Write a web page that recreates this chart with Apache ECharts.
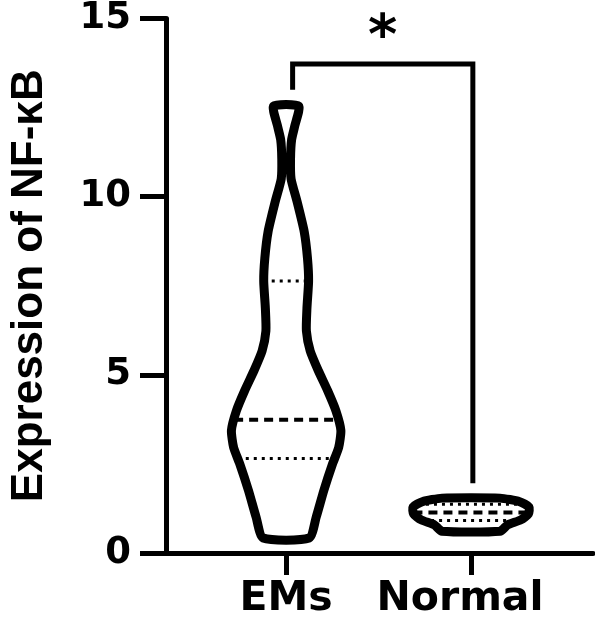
<!DOCTYPE html>
<html>
<head>
<meta charset="utf-8">
<script src="https://cdn.jsdelivr.net/npm/echarts@6/dist/echarts.min.js"></script>
<style>
html,body{margin:0;padding:0;background:#fff;}
#chart{width:595px;height:620px;}
</style>
</head>
<body>
<div id="chart"></div>
<script>
// ---- data ----
const categories = ['EMs', 'Normal'];
const categoryPositions = [1, 2];
const yTicks = [0, 5, 10, 15];
const yAxisTitle = 'Expression of NF-κB';

// violin outlines: levels (y values) and relative density (half width) at each level
const emsLevels   = [0.42, 1.01, 1.76, 2.51, 2.96, 3.44, 3.99, 4.55, 5.11, 5.67, 6.23, 6.87, 7.63, 8.27, 9.02, 9.86, 10.5, 11.06, 11.6, 12.0, 12.54];
const emsDensity  = [0.42, 0.55, 0.69, 0.85, 0.96, 1.00, 0.91, 0.76, 0.59, 0.44, 0.37, 0.38, 0.41, 0.39, 0.33, 0.20, 0.09, 0.08, 0.10, 0.16, 0.23];
const normalLevels  = [0.61, 0.79, 0.93, 1.10, 1.29, 1.44, 1.54];
const normalDensity = [0.53, 0.67, 0.91, 1.05, 1.06, 0.89, 0.53];

// quartiles: [Q1, median, Q3]
const emsQuartiles    = [2.65, 3.74, 7.63];
const normalQuartiles = [0.91, 1.14, 1.37];

// significance bracket
const bracketX = [1.035, 2.01];        // left leg, right leg
const bracketY = [13.0, 13.72, 1.96];  // left leg end, top, right leg end
const sigLabel = '*';
const sigLabelY = 14.45;

// ---- drawing ----
const MAX_HALF = 0.296;
const groups = [
  {levels: emsLevels, density: emsDensity, quart: emsQuartiles},
  {levels: normalLevels, density: normalDensity, quart: normalQuartiles}
];

function halfAt(g, y) {
  const L = g.levels, D = g.density;
  if (y <= L[0]) return D[0] * MAX_HALF;
  for (let k = 1; k < L.length; k++) {
    if (y <= L[k]) {
      const t = (y - L[k - 1]) / (L[k] - L[k - 1]);
      return (D[k - 1] + t * (D[k] - D[k - 1])) * MAX_HALF;
    }
  }
  return D[D.length - 1] * MAX_HALF;
}

function renderViolin(params, api) {
  const g = groups[params.dataIndex];
  const xc = api.value(0);
  const right = g.levels.map((y, k) => api.coord([xc + g.density[k] * MAX_HALF, y]));
  const left = g.levels.map((y, k) => api.coord([xc - g.density[k] * MAX_HALF, y])).reverse();
  const children = [];
  g.quart.forEach((q, qi) => {
    const h = halfAt(g, q);
    const p1 = api.coord([xc - h, q]);
    const p2 = api.coord([xc + h, q]);
    const isMedian = qi === 1;
    children.push({
      type: 'line',
      shape: {x1: p1[0], y1: p1[1], x2: p2[0], y2: p2[1]},
      style: {stroke: '#000', lineWidth: isMedian ? 4 : 3, lineDash: isMedian ? [9, 6] : [3, 5], fill: null}
    });
  });
  children.push({
    type: 'polygon',
    shape: {points: right.concat(left), smooth: 0.2},
    style: {fill: 'rgba(0,0,0,0)', stroke: '#000', lineWidth: 9, lineJoin: 'round'}
  });
  return {type: 'group', children: children};
}

function renderBracket(params, api) {
  const p0 = api.coord([bracketX[0], bracketY[0]]);
  const p1 = api.coord([bracketX[0], bracketY[1]]);
  const p2 = api.coord([bracketX[1], bracketY[1]]);
  const p3 = api.coord([bracketX[1], bracketY[2]]);
  const t = api.coord([(bracketX[0] + bracketX[1]) / 2, sigLabelY]);
  return {
    type: 'group',
    children: [
      {type: 'polyline', shape: {points: [p0, p1, p2, p3]}, style: {stroke: '#000', lineWidth: 5, fill: null}},
      {type: 'text', x: t[0], y: t[1], style: {text: sigLabel, fontFamily: 'DejaVu Sans', fontWeight: 'bold', fontSize: 56, fill: '#000', align: 'center', verticalAlign: 'middle'}}
    ]
  };
}

const chart = echarts.init(document.getElementById('chart'), null, {renderer: 'canvas'});
chart.setOption({
  backgroundColor: '#fff',
  animation: false,
  grid: {left: 163, right: 2, top: 17, bottom: 67, containLabel: false},
  xAxis: {
    type: 'value',
    min: 0.35,
    max: 2.66,
    splitLine: {show: false},
    axisLine: {show: true, onZero: false, lineStyle: {color: '#000', width: 5}},
    axisTick: {show: true, customValues: categoryPositions, length: 22, lineStyle: {color: '#000', width: 5}},
    axisLabel: {
      customValues: categoryPositions,
      formatter: function (v) {
        const name = categories[categoryPositions.indexOf(v)];
        return v === categoryPositions[1] ? '{n|' + name + '}' : '{e|' + name + '}';
      },
      margin: 26,
      rich: {
        e: {fontFamily: 'DejaVu Sans', fontWeight: 'bold', fontSize: 41, color: '#000'},
        n: {fontFamily: 'DejaVu Sans', fontWeight: 'bold', fontSize: 41, color: '#000', padding: [0, 22, 0, 0]}
      }
    }
  },
  yAxis: {
    type: 'value',
    min: yTicks[0],
    max: yTicks[yTicks.length - 1],
    interval: yTicks[1] - yTicks[0],
    splitLine: {show: false},
    axisLine: {show: true, lineStyle: {color: '#000', width: 5}},
    axisTick: {show: true, length: 26, lineStyle: {color: '#000', width: 5}},
    axisLabel: {fontFamily: 'DejaVu Sans', fontWeight: 'bold', fontSize: 37, color: '#000', margin: 35},
    name: yAxisTitle,
    nameLocation: 'middle',
    nameGap: 114,
    nameTextStyle: {fontFamily: 'Liberation Sans', fontWeight: 'bold', fontSize: 44, color: '#000'}
  },
  series: [
    {
      type: 'custom',
      name: 'violins',
      renderItem: renderViolin,
      clip: false,
      encode: {x: 0, y: 1},
      data: categoryPositions.map((x, i) => [x, groups[i].quart[1]]),
      z: 3
    },
    {
      type: 'custom',
      name: 'significance',
      renderItem: renderBracket,
      clip: false,
      encode: {x: 0, y: 1},
      data: [[bracketX[0], bracketY[1]]],
      z: 3
    }
  ]
});
</script>
</body>
</html>
